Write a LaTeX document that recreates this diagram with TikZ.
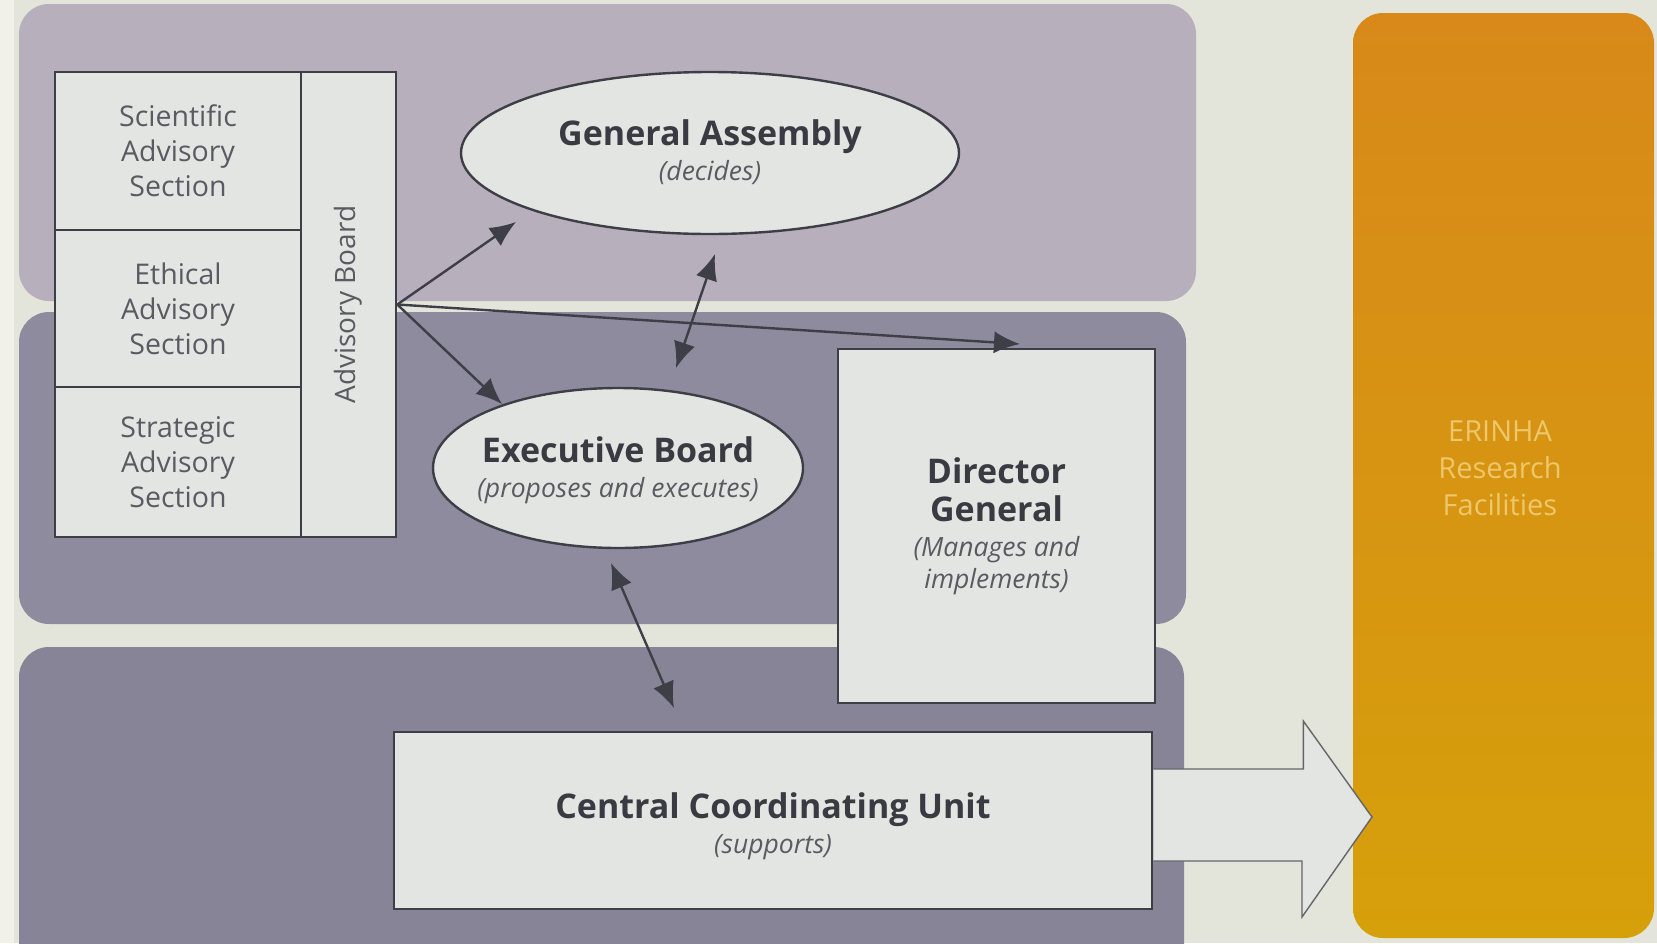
\documentclass[tikz,border=0pt]{standalone}
\usepackage{fontspec}
\setmainfont{Open Sans}
\usetikzlibrary{shapes.geometric,arrows.meta,calc}
\definecolor{bg}{HTML}{E4E5DA}
\definecolor{bgl}{HTML}{F1F1EA}
\definecolor{bandA}{HTML}{B8AFBD}
\definecolor{bandB}{HTML}{8E8B9F}
\definecolor{bandC}{HTML}{868496}
\definecolor{boxfill}{HTML}{E3E5E3}
\definecolor{linec}{HTML}{3E3E46}
\definecolor{titlec}{HTML}{3A3B42}
\definecolor{subc}{HTML}{5A5A62}
\definecolor{orTop}{HTML}{D8891A}
\definecolor{orBot}{HTML}{D6A00A}
\definecolor{orText}{HTML}{EDC76A}
\tikzset{
  band/.style={rounded corners=30pt},
  cell/.style={draw=linec, line width=2.6pt, fill=boxfill, inner sep=0pt, align=center,
     text=subc, font=\fontsize{28.5}{35}\selectfont},
  ovalbox/.style={ellipse, draw=linec, line width=2.4pt, fill=boxfill, inner sep=0pt},
  rectbox/.style={draw=linec, line width=2.6pt, fill=boxfill, inner sep=0pt, align=center, text=titlec,
     font=\fontsize{34}{35}\selectfont},
  lbl/.style={align=center, text=titlec, inner sep=0pt, font=\fontsize{34}{35}\selectfont},
  arr/.style={draw=linec, line width=2.4pt, -{Latex[length=26pt,width=22pt]}},
  darr/.style={draw=linec, line width=2.4pt, {Latex[length=26pt,width=22pt]}-{Latex[length=26pt,width=22pt]}},
  bigarrow/.style={draw=linec!80, line width=1.4pt, fill=boxfill, line join=miter}
}
\newcommand{\subt}[1]{{\color{subc}\itshape\fontsize{26.5}{32}\selectfont #1}}
\begin{document}
\begin{tikzpicture}[x=1pt,y=-1pt]
\clip (0,0) rectangle (1657,943);
\fill[bg] (0,0) rectangle (1657,943);
\fill[bgl] (0,0) rectangle (14,943);
% bands
\fill[bandA, band] (19,4) rectangle (1196,301);
\fill[bandB, band] (19,312) rectangle (1186,624);
\fill[bandC, band] (19,647) rectangle (1184,990);
% orange facilities
\shade[top color=orTop, bottom color=orBot, rounded corners=30pt] (1353,13) rectangle (1654,938);
\node[align=center, text=orText, font=\fontsize{29}{37}\selectfont] (erinha) at (1500,468) {ERINHA\\Research\\Facilities};
% advisory table
\node[cell, minimum width=246pt, minimum height=158pt] (sci) at (178,151) {Scientific\\Advisory\\Section};
\node[cell, minimum width=246pt, minimum height=157pt] (eth) at (178,308.5) {Ethical\\Advisory\\Section};
\node[cell, minimum width=246pt, minimum height=150pt] (str) at (178,462) {Strategic\\Advisory\\Section};
\node[cell, minimum width=95pt, minimum height=465pt] (ab) at (348.5,304.5) {};
\node[text=subc, font=\fontsize{28}{30}\selectfont, rotate=90] (abl) at (ab.center) {Advisory Board};
% ellipses
\node[ovalbox, minimum width=498pt, minimum height=162pt] (ga) at (710,153) {};
\node[lbl] (gat) at ([yshift=1pt]ga.center) {\textbf{General Assembly}\\\subt{(decides)}};
\node[ovalbox, minimum width=370pt, minimum height=160pt] (eb) at (618,468) {};
\node[lbl] (ebt) at ([yshift=-2pt]eb.center) {\textbf{Executive Board}\\\subt{(proposes and executes)}};
% director general
\node[rectbox, minimum width=317pt, minimum height=354pt] (dg) at (996.5,526)
  {\textbf{Director}\\[3pt]\textbf{General}\\\subt{(Manages and}\\[-3pt]\subt{implements)}};
% central coordinating unit
\node[rectbox, minimum width=758pt, minimum height=177pt] (ccu) at (773,820.5) {};
\node[lbl] (ccut) at ([yshift=-6pt]ccu.center) {\textbf{Central Coordinating Unit}\\\subt{(supports)}};
% big arrow to facilities
\draw[bigarrow] ([yshift=51.5pt]ccu.east) -- ++(150,0) -- ++(0,-48) -- (1372,817) -- (1302,917) -- (1302,861) -- ([yshift=-40.5pt]ccu.east);
% connector end points
\coordinate (gaIn) at (516,222);
\coordinate (ebIn) at (502,404);
\coordinate (dgIn) at (1020,344);
\coordinate (gaOut) at (715,254);
\coordinate (ebTop) at (676,368);
\coordinate (ebBot) at (611,563);
\coordinate (ccuTop) at (674,708);
\draw[arr] (ab.east) -- (gaIn);
\draw[arr] (ab.east) -- (ebIn);
\draw[arr] (ab.east) -- (dgIn);
\draw[darr] (gaOut) -- (ebTop);
\draw[darr] (ebBot) -- (ccuTop);
\end{tikzpicture}
\end{document}
